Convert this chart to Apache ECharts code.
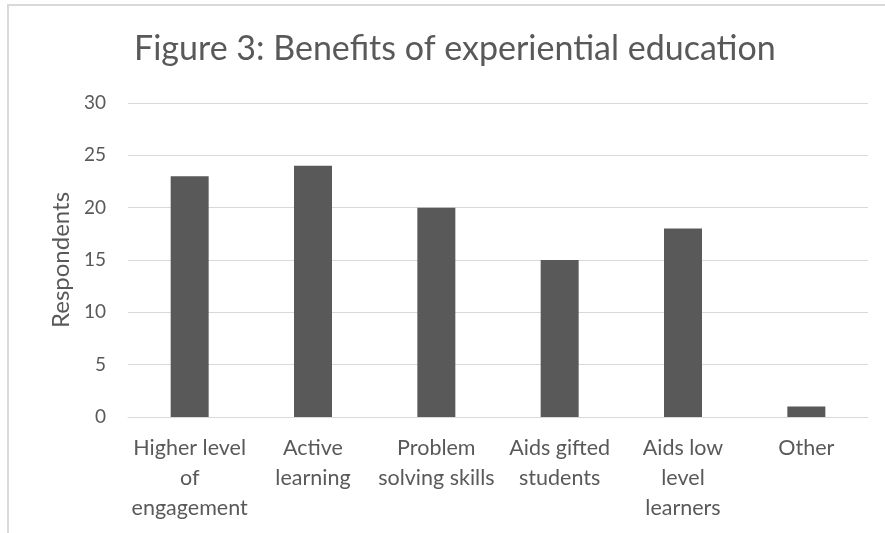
<!DOCTYPE html>
<html>
<head>
<meta charset="utf-8">
<script src="https://cdn.jsdelivr.net/npm/echarts@6/dist/echarts.min.js"></script>
<style>html,body{margin:0;padding:0;background:#fff;}#c{width:885px;height:533px;}</style>
</head>
<body>
<div id="c"></div>
<script>
var titleText = 'Figure 3: Benefits of experiential education';
var yAxisName = 'Respondents';
var categories = ['Higher level\nof\nengagement', 'Active\nlearning', 'Problem\nsolving skills', 'Aids gifted\nstudents', 'Aids low\nlevel\nlearners', 'Other'];
var values = [23, 24, 20, 15, 18, 1];

var chart = echarts.init(document.getElementById('c'));
var font = 'Lato, "Open Sans", sans-serif';
chart.setOption({
  backgroundColor: '#fff',
  animation: false,
  graphic: [{
    type: 'rect', silent: true,
    shape: {x: 8, y: 5, width: 900, height: 560},
    style: {fill: 'none', stroke: '#d9d9d9', lineWidth: 2}
  }],
  title: {
    text: titleText, left: 129, top: 27,
    textStyle: {fontFamily: font, fontSize: 34, fontWeight: 'normal', color: '#595959'}
  },
  grid: {left: 128, right: 17, top: 103, bottom: 116},
  xAxis: {
    type: 'category', data: categories,
    axisLine: {lineStyle: {color: '#d9d9d9', width: 1}},
    axisTick: {show: false},
    axisLabel: {fontFamily: font, fontSize: 21.5, color: '#595959', lineHeight: 30, margin: 16, interval: 0}
  },
  yAxis: {
    type: 'value', min: 0, max: 30, interval: 5,
    name: yAxisName, nameLocation: 'middle', nameGap: 54,
    nameTextStyle: {fontFamily: font, fontSize: 24, color: '#595959'},
    axisLine: {show: false}, axisTick: {show: false},
    splitLine: {lineStyle: {color: '#d9d9d9', width: 1}},
    axisLabel: {fontFamily: font, fontSize: 19, color: '#595959', margin: 22}
  },
  series: [{
    type: 'bar', data: values, barWidth: 38,
    itemStyle: {color: '#595959'}
  }]
});
</script>
</body>
</html>
